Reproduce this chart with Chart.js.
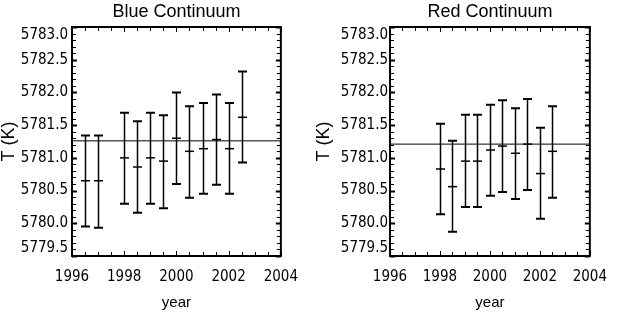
<!DOCTYPE html>
<html>
<head>
<meta charset="utf-8">
<script src="https://cdn.jsdelivr.net/npm/chart.js@4.4.0/dist/chart.umd.min.js"></script>
<style>
  html, body { margin: 0; padding: 0; background: #fff; }
  #wrap { position: relative; width: 619px; height: 315px; }
  canvas { position: absolute; top: 0; }
  #blue { left: 0; width: 310px; height: 315px; }
  #red { left: 310px; width: 309px; height: 315px; }
</style>
</head>
<body>
<div id="wrap">
  <canvas id="blue" width="310" height="315"></canvas>
  <canvas id="red" width="309" height="315"></canvas>
</div>
<script>
'use strict';

// axis ticks
const xTicks = [1996, 1998, 2000, 2002, 2004];
const yTicks = [5779.5, 5780.0, 5780.5, 5781.0, 5781.5, 5782.0, 5782.5, 5783.0];

// blue continuum: mean temperature and error bar ends
const blueYears = [1996.5, 1997.0, 1998.0, 1998.5, 1999.0, 1999.5, 2000.0, 2000.5, 2001.0, 2001.5, 2002.0, 2002.5];
const blueMean = [5780.65, 5780.65, 5781.00, 5780.86, 5781.00, 5780.95, 5781.30, 5781.10, 5781.14, 5781.28, 5781.14, 5781.62];
const blueHigh = [5781.34, 5781.34, 5781.69, 5781.56, 5781.69, 5781.65, 5782.00, 5781.79, 5781.84, 5781.97, 5781.84, 5782.32];
const blueLow = [5779.95, 5779.93, 5780.30, 5780.16, 5780.30, 5780.23, 5780.60, 5780.39, 5780.45, 5780.59, 5780.45, 5780.93];
const blueRef = 5781.26;

// red continuum
const redYears = [1998.0, 1998.5, 1999.0, 1999.5, 2000.0, 2000.5, 2001.0, 2001.5, 2002.0, 2002.5];
const redMean = [5780.83, 5780.56, 5780.95, 5780.95, 5781.12, 5781.18, 5781.07, 5781.21, 5780.76, 5781.10];
const redHigh = [5781.52, 5781.26, 5781.66, 5781.66, 5781.81, 5781.88, 5781.76, 5781.90, 5781.46, 5781.79];
const redLow = [5780.14, 5779.87, 5780.25, 5780.25, 5780.42, 5780.48, 5780.37, 5780.51, 5780.07, 5780.39];
const redRef = 5781.21;

const narrow = "'Liberation Sans Narrow', 'DejaVu Sans Condensed', sans-serif";
const plain = "'Liberation Sans', Arial, sans-serif";

/* error bars: vertical line, caps and a mark at the mean */
const errorBars = {
  id: 'errorBars',
  afterDatasetsDraw(chart) {
    const ds = chart.data.datasets[0];
    const xs = chart.scales.x, ys = chart.scales.y;
    const ctx = chart.ctx;
    const half = 4.5;
    ctx.save();
    ctx.strokeStyle = '#000';
    ds.data.forEach((p, i) => {
      const x = Math.round(xs.getPixelForValue(p.x)) + 0.5;
      const yc = ys.getPixelForValue(p.y);
      const yh = ys.getPixelForValue(ds.errHigh[i]);
      const yl = ys.getPixelForValue(ds.errLow[i]);
      ctx.lineWidth = 1.5;
      ctx.beginPath();
      ctx.moveTo(x, yh); ctx.lineTo(x, yl);
      ctx.stroke();
      ctx.lineWidth = 2;
      ctx.beginPath();
      ctx.moveTo(x - half, yh); ctx.lineTo(x + half, yh);
      ctx.moveTo(x - half, yl); ctx.lineTo(x + half, yl);
      ctx.stroke();
      ctx.lineWidth = 1.5;
      ctx.beginPath();
      ctx.moveTo(x - half, yc); ctx.lineTo(x + half, yc);
      ctx.stroke();
    });
    ctx.restore();
  }
};

/* box round the plot with inward ticks on all four sides */
const frame = {
  id: 'frame',
  afterDraw(chart) {
    const {ctx, chartArea: a, scales: {x, y}} = chart;
    ctx.save();
    ctx.strokeStyle = '#000';
    ctx.lineWidth = 2;
    ctx.strokeRect(a.left, a.top, a.right - a.left, a.bottom - a.top);
    for (let i = 0; i <= 16; i++) {
      const v = x.min + i * 0.5;
      const px = Math.round(x.getPixelForValue(v)) + 0.5;
      const len = i % 4 === 0 ? 5 : 4;
      ctx.lineWidth = 1;
      ctx.beginPath();
      ctx.moveTo(px, a.bottom); ctx.lineTo(px, a.bottom - len);
      ctx.moveTo(px, a.top); ctx.lineTo(px, a.top + len);
      ctx.stroke();
    }
    for (let i = 0; i <= 35; i++) {
      const v = y.min + i * 0.1;
      const py = Math.round(y.getPixelForValue(v)) + 0.5;
      const major = i % 5 === 0;
      ctx.lineWidth = major ? 2 : 1;
      const len = major ? 5 : 4;
      ctx.beginPath();
      ctx.moveTo(a.left, py); ctx.lineTo(a.left + len, py);
      ctx.moveTo(a.right, py); ctx.lineTo(a.right - len, py);
      ctx.stroke();
    }
    ctx.restore();
  }
};

function makeChart(id, title, years, mean, high, low, ref, g) {
  const points = years.map((yr, i) => ({x: yr, y: mean[i]}));
  return new Chart(document.getElementById(id), {
    type: 'scatter',
    data: {
      datasets: [{
        data: points,
        errHigh: high,
        errLow: low,
        pointRadius: 0,
        showLine: false
      }, {
        type: 'line',
        data: [{x: xTicks[0], y: ref}, {x: xTicks[xTicks.length - 1], y: ref}],
        borderColor: '#000',
        borderWidth: 1,
        pointRadius: 0,
        fill: false
      }]
    },
    options: {
      responsive: false,
      animation: false,
      devicePixelRatio: 1,
      layout: {padding: {top: 0, right: g.padRight, bottom: 0, left: 0}},
      plugins: {
        legend: {display: false},
        tooltip: {enabled: false},
        title: {
          display: true,
          text: title,
          color: '#000',
          fullSize: false,
          font: {family: plain, size: 18, weight: 'normal', lineHeight: 1.2},
          padding: {top: 1, bottom: 4.4}
        }
      },
      scales: {
        x: {
          type: 'linear',
          min: xTicks[0],
          max: xTicks[xTicks.length - 1],
          afterBuildTicks: s => { s.ticks = xTicks.map(v => ({value: v})); },
          afterFit: s => { s.height = 59; },
          grid: {display: false, drawTicks: false},
          border: {display: false},
          ticks: {
            autoSkip: false,
            maxRotation: 0,
            color: '#000',
            padding: 12,
            font: {family: narrow, size: 15, lineHeight: 1.2},
            callback: v => String(v)
          },
          title: {
            display: true,
            text: 'year',
            color: '#000',
            font: {family: plain, size: 15, lineHeight: 1.2},
            padding: {top: 0, bottom: 3}
          }
        },
        y: {
          type: 'linear',
          min: yTicks[0],
          max: yTicks[yTicks.length - 1],
          afterBuildTicks: s => { s.ticks = yTicks.map(v => ({value: v})); },
          afterFit: s => { s.width = g.yWidth; },
          grid: {display: false, drawTicks: false},
          border: {display: false},
          ticks: {
            autoSkip: false,
            color: '#000',
            padding: g.labelPad,
            font: {family: narrow, size: 15, lineHeight: 1.1},
            callback: (v, i, arr) => {
              const s = Number(v).toFixed(1);
              if (i === 0) return [s, ''];
              if (i === arr.length - 1) return ['', s];
              return s;
            }
          },
          title: {
            display: true,
            text: 'T (K)',
            color: '#000',
            font: {family: plain, size: 18, lineHeight: 1.0},
            padding: {top: g.titlePad, bottom: 0}
          }
        }
      }
    },
    plugins: [errorBars, frame]
  });
}

makeChart('blue', 'Blue Continuum', blueYears, blueMean, blueHigh, blueLow, blueRef,
  {yWidth: 72, padRight: 25, labelPad: 4, titlePad: 0});
makeChart('red', 'Red Continuum', redYears, redMean, redHigh, redLow, redRef,
  {yWidth: 80, padRight: 17, labelPad: 2, titlePad: 5});
</script>
</body>
</html>
